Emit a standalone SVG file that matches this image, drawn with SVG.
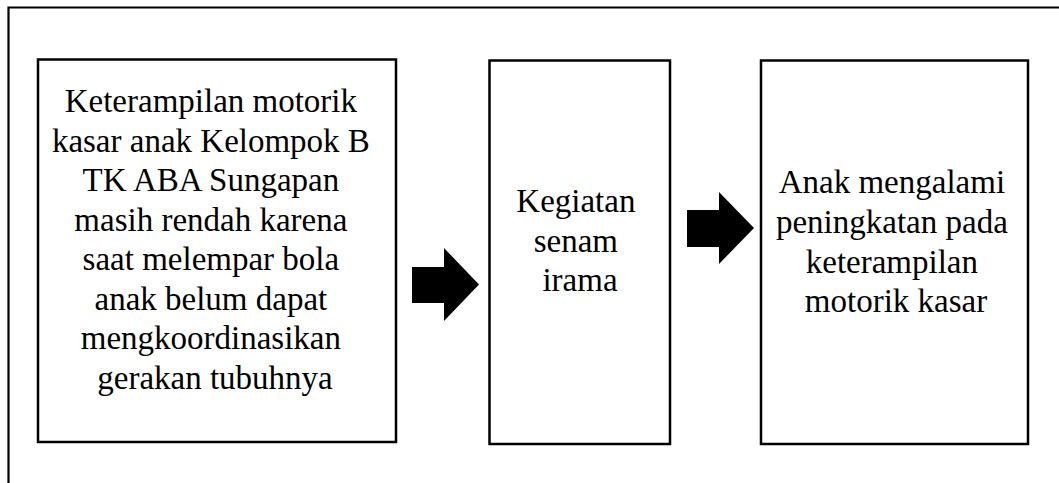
<svg xmlns="http://www.w3.org/2000/svg" width="1059" height="483" viewBox="0 0 1059 483">
<style>
.box{fill:#fff;stroke:#000;stroke-width:2.5}
.frame{fill:none;stroke:#000;stroke-width:2.2}
.t{font-family:'Liberation Serif','Times New Roman',serif;font-size:33px;fill:#000;text-anchor:middle}
.arr{fill:#000;stroke:none}
</style>
<rect width="1059" height="483" fill="#fff"/>
<path class="frame" d="M8.5,490 V7.5 H1070"/>
<g id="node1">
<rect class="box" x="38" y="59.5" width="358" height="382.5"/>
<text class="t">
<tspan x="215" y="112">Keterampilan motorik</tspan>
<tspan x="215" y="151.5">kasar anak Kelompok B</tspan>
<tspan x="215" y="191">TK ABA Sungapan</tspan>
<tspan x="215" y="230.5">masih rendah karena</tspan>
<tspan x="215" y="270">saat melempar bola</tspan>
<tspan x="215" y="309.5">anak belum dapat</tspan>
<tspan x="215" y="349">mengkoordinasikan</tspan>
<tspan x="215" y="388.5">gerakan tubuhnya</tspan>
</text>
</g>
<g id="node2">
<rect class="box" x="489.5" y="60.5" width="180.5" height="383.5"/>
<text class="t">
<tspan x="580" y="212">Kegiatan</tspan>
<tspan x="580" y="252">senam</tspan>
<tspan x="580" y="291">irama</tspan>
</text>
</g>
<g id="node3">
<rect class="box" x="761" y="60.5" width="267" height="383.5"/>
<text class="t">
<tspan x="896" y="193">Anak mengalami</tspan>
<tspan x="896" y="233">peningkatan pada</tspan>
<tspan x="896" y="273">keterampilan</tspan>
<tspan x="896" y="312">motorik kasar</tspan>
</text>
</g>
<g id="connectors">
<polygon class="arr" points="412,267 444,267 444,248 479,284.5 444,321 444,303 412,303"/>
<polygon class="arr" points="687,210 719,210 719,192 754,228 719,264 719,247 687,247"/>
</g>
</svg>
